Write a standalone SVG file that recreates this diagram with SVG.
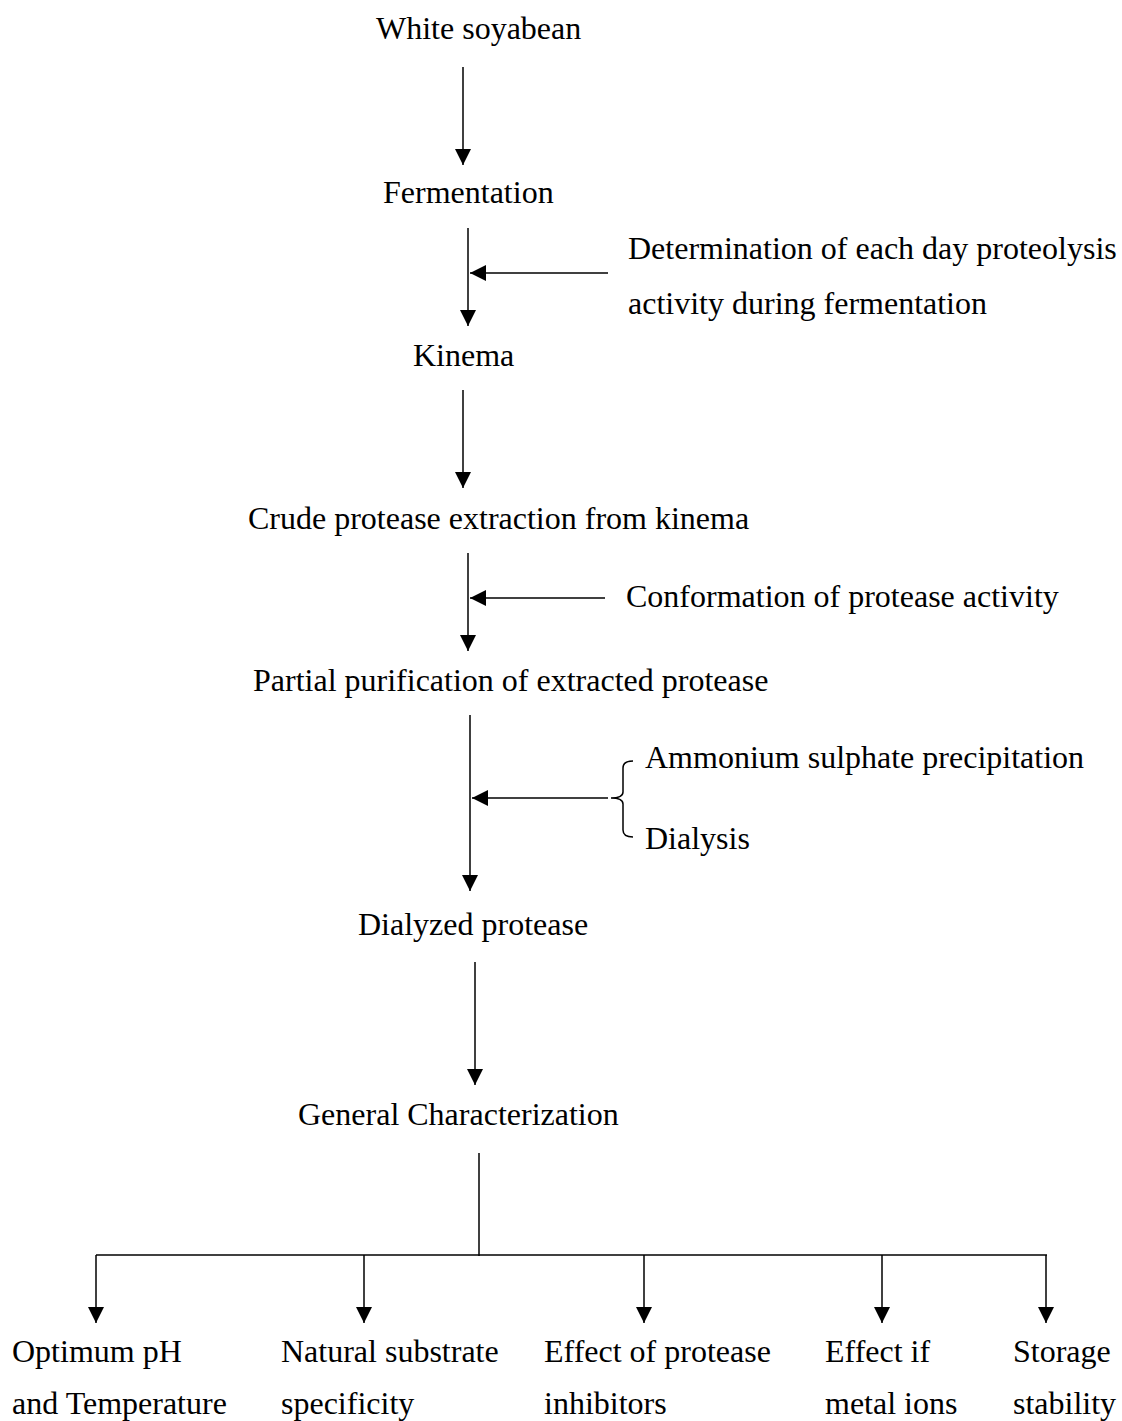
<svg xmlns="http://www.w3.org/2000/svg" width="1122" height="1421" viewBox="0 0 1122 1421">
<style>
text{font-family:"Liberation Serif","Times New Roman",serif;font-size:32px;fill:#000}
.c{stroke:#000;stroke-width:1.5;fill:none}
</style>
<defs>
<marker id="ah" markerUnits="userSpaceOnUse" markerWidth="16" markerHeight="16" refX="16" refY="8" orient="auto">
<path d="M0,0 L16,8 L0,16 z" fill="#000"/>
</marker>
</defs>
<rect width="1122" height="1421" fill="#fff"/>
<g id="connectors">
<line class="c" x1="463" y1="67" x2="463" y2="165" marker-end="url(#ah)"/>
<line class="c" x1="468" y1="228" x2="468" y2="326" marker-end="url(#ah)"/>
<line class="c" x1="608" y1="273" x2="470" y2="273" marker-end="url(#ah)"/>
<line class="c" x1="463" y1="390" x2="463" y2="488" marker-end="url(#ah)"/>
<line class="c" x1="468" y1="553" x2="468" y2="651" marker-end="url(#ah)"/>
<line class="c" x1="605" y1="598" x2="470" y2="598" marker-end="url(#ah)"/>
<line class="c" x1="470" y1="715" x2="470" y2="891" marker-end="url(#ah)"/>
<line class="c" x1="608" y1="798" x2="472" y2="798" marker-end="url(#ah)"/>
<path class="c" d="M633,761 Q623,761 623,768 L623,792 Q623,798 611,798 Q623,798 623,804 L623,830 Q623,837 633,837"/>
<line class="c" x1="475" y1="962" x2="475" y2="1085" marker-end="url(#ah)"/>
<line class="c" x1="479" y1="1153" x2="479" y2="1256"/>
<line class="c" x1="96" y1="1255" x2="1047" y2="1255"/>
<line class="c" x1="96" y1="1255" x2="96" y2="1323" marker-end="url(#ah)"/>
<line class="c" x1="364" y1="1255" x2="364" y2="1323" marker-end="url(#ah)"/>
<line class="c" x1="644" y1="1255" x2="644" y2="1323" marker-end="url(#ah)"/>
<line class="c" x1="882" y1="1255" x2="882" y2="1323" marker-end="url(#ah)"/>
<line class="c" x1="1046" y1="1255" x2="1046" y2="1323" marker-end="url(#ah)"/>
</g>
<g id="n1"><text x="376" y="39">White soyabean</text></g>
<g id="n2"><text x="383" y="203">Fermentation</text></g>
<g id="n3"><text x="628" y="259">Determination of each day proteolysis</text><text x="628" y="314">activity during fermentation</text></g>
<g id="n4"><text x="413" y="366">Kinema</text></g>
<g id="n5"><text x="248" y="529">Crude protease extraction from kinema</text></g>
<g id="n6"><text x="626" y="607">Conformation of protease activity</text></g>
<g id="n7"><text x="253" y="691">Partial purification of extracted protease</text></g>
<g id="n8"><text x="645" y="768">Ammonium sulphate precipitation</text><text x="645" y="849">Dialysis</text></g>
<g id="n9"><text x="358" y="935">Dialyzed protease</text></g>
<g id="n10"><text x="298" y="1125">General Characterization</text></g>
<g id="n11"><text x="12" y="1362">Optimum pH</text><text x="12" y="1414">and Temperature</text></g>
<g id="n12"><text x="281" y="1362">Natural substrate</text><text x="281" y="1414">specificity</text></g>
<g id="n13"><text x="544" y="1362">Effect of protease</text><text x="544" y="1414">inhibitors</text></g>
<g id="n14"><text x="825" y="1362">Effect if</text><text x="825" y="1414">metal ions</text></g>
<g id="n15"><text x="1013" y="1362">Storage</text><text x="1013" y="1414">stability</text></g>
</svg>
